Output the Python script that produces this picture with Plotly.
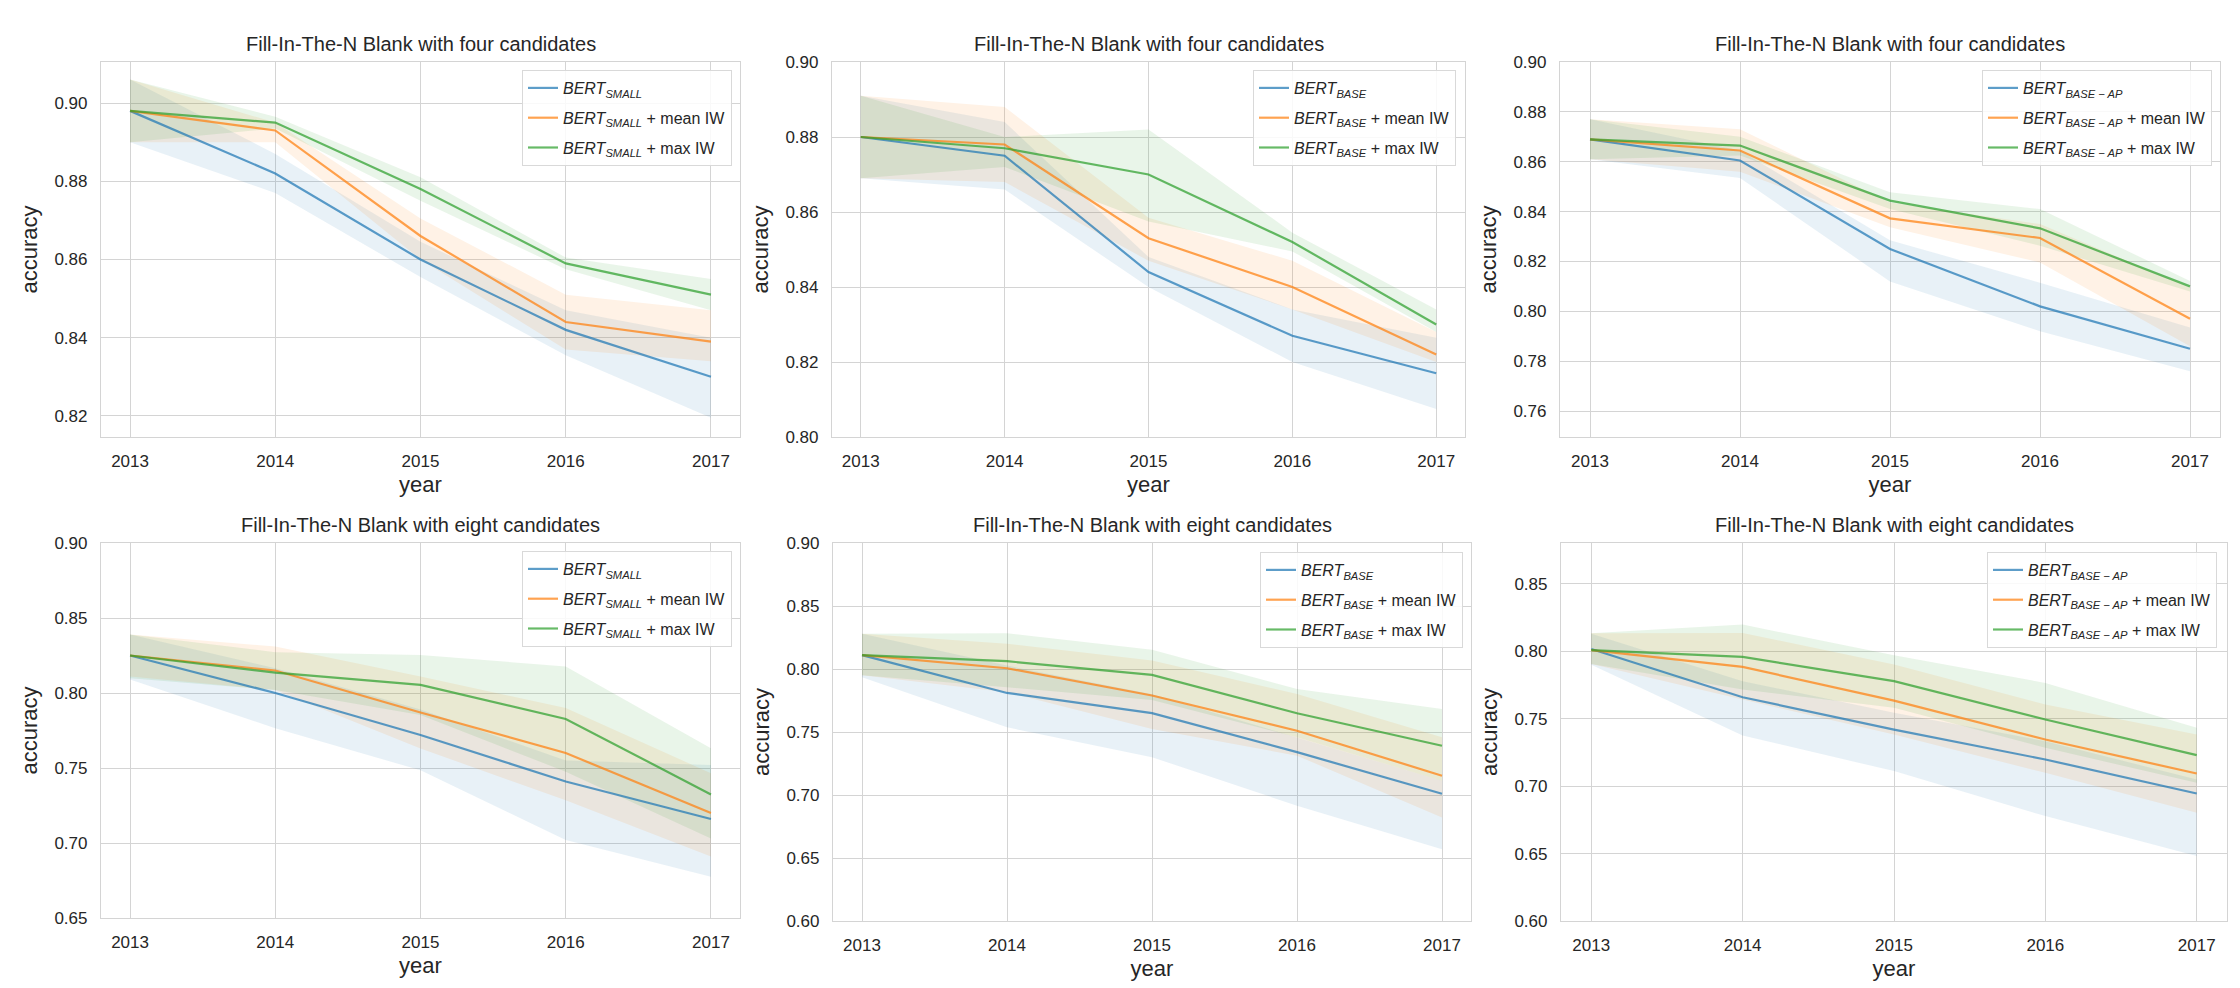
import plotly.graph_objects as go

W, H = 2240, 988

years = [2013, 2014, 2015, 2016, 2017]
year_labels = ["2013", "2014", "2015", "2016", "2017"]

titles = [
    "Fill-In-The-N Blank with four candidates",
    "Fill-In-The-N Blank with four candidates",
    "Fill-In-The-N Blank with four candidates",
    "Fill-In-The-N Blank with eight candidates",
    "Fill-In-The-N Blank with eight candidates",
    "Fill-In-The-N Blank with eight candidates",
]
model_names = ["SMALL", "BASE", "BASE \u2212 AP", "SMALL", "BASE", "BASE \u2212 AP"]
suffixes = ["", " + mean IW", " + max IW"]

# Panel 1: four candidates, BERT_SMALL
four_small_base = [0.898, 0.882, 0.860, 0.842, 0.830]
four_small_base_lo = [0.890, 0.877, 0.8555, 0.8355, 0.8195]
four_small_base_hi = [0.906, 0.887, 0.8645, 0.847, 0.840]
four_small_mean = [0.898, 0.893, 0.866, 0.844, 0.839]
four_small_mean_lo = [0.890, 0.890, 0.860, 0.837, 0.834]
four_small_mean_hi = [0.906, 0.895, 0.8705, 0.851, 0.847]
four_small_max = [0.898, 0.895, 0.878, 0.859, 0.851]
four_small_max_lo = [0.890, 0.8935, 0.875, 0.8575, 0.847]
four_small_max_hi = [0.906, 0.8965, 0.881, 0.8605, 0.855]

# Panel 2: four candidates, BERT_BASE
four_base_base = [0.880, 0.875, 0.844, 0.827, 0.817]
four_base_base_lo = [0.869, 0.866, 0.840, 0.820, 0.8075]
four_base_base_hi = [0.891, 0.884, 0.848, 0.834, 0.8265]
four_base_mean = [0.880, 0.878, 0.853, 0.840, 0.822]
four_base_mean_lo = [0.869, 0.868, 0.847, 0.834, 0.820]
four_base_mean_hi = [0.891, 0.888, 0.8585, 0.847, 0.828]
four_base_max = [0.880, 0.877, 0.870, 0.852, 0.830]
four_base_max_lo = [0.869, 0.872, 0.8575, 0.8495, 0.828]
four_base_max_hi = [0.891, 0.880, 0.882, 0.8545, 0.834]

# Panel 3: four candidates, BERT_BASE-AP
four_ap_base = [0.869, 0.8605, 0.825, 0.802, 0.785]
four_ap_base_lo = [0.861, 0.8535, 0.812, 0.792, 0.776]
four_ap_base_hi = [0.877, 0.8645, 0.8285, 0.8115, 0.7935]
four_ap_mean = [0.869, 0.8645, 0.8373, 0.8294, 0.797]
four_ap_mean_lo = [0.861, 0.856, 0.8337, 0.8196, 0.786]
four_ap_mean_hi = [0.877, 0.873, 0.8437, 0.835, 0.8096]
four_ap_max = [0.869, 0.8665, 0.8444, 0.8333, 0.810]
four_ap_max_lo = [0.861, 0.8625, 0.841, 0.8263, 0.808]
four_ap_max_hi = [0.877, 0.870, 0.8478, 0.841, 0.8122]

# Panel 4: eight candidates, BERT_SMALL
eight_small_base = [0.825, 0.800, 0.772, 0.741, 0.716]
eight_small_base_lo = [0.809, 0.7765, 0.7485, 0.702, 0.6775]
eight_small_base_hi = [0.839, 0.8165, 0.789, 0.755, 0.752]
eight_small_mean = [0.825, 0.815, 0.787, 0.760, 0.720]
eight_small_mean_lo = [0.811, 0.802, 0.763, 0.7285, 0.691]
eight_small_mean_hi = [0.839, 0.831, 0.811, 0.790, 0.7465]
eight_small_max = [0.825, 0.8136, 0.8054, 0.7827, 0.7324]
eight_small_max_lo = [0.8098, 0.802, 0.7854, 0.7475, 0.703]
eight_small_max_hi = [0.839, 0.8272, 0.8254, 0.8176, 0.7631]

# Panel 5: eight candidates, BERT_BASE
eight_base_base = [0.811, 0.781, 0.765, 0.734, 0.701]
eight_base_base_lo = [0.7935, 0.7537, 0.730, 0.6915, 0.657]
eight_base_base_hi = [0.828, 0.8027, 0.780, 0.7458, 0.7113]
eight_base_mean = [0.811, 0.8006, 0.779, 0.751, 0.7153]
eight_base_mean_lo = [0.795, 0.7815, 0.7524, 0.7312, 0.6822]
eight_base_mean_hi = [0.828, 0.820, 0.8067, 0.7802, 0.7458]
eight_base_max = [0.811, 0.8062, 0.7953, 0.7649, 0.7391]
eight_base_max_lo = [0.795, 0.7855, 0.7754, 0.7458, 0.7113]
eight_base_max_hi = [0.828, 0.8284, 0.8152, 0.7842, 0.7683]

# Panel 6: eight candidates, BERT_BASE-AP
eight_ap_base = [0.8018, 0.766, 0.742, 0.7198, 0.6946]
eight_ap_base_lo = [0.790, 0.7376, 0.7112, 0.6778, 0.6482]
eight_ap_base_hi = [0.813, 0.7779, 0.7544, 0.7334, 0.705]
eight_ap_mean = [0.801, 0.7885, 0.7635, 0.7346, 0.7094]
eight_ap_mean_lo = [0.7907, 0.7643, 0.7383, 0.7099, 0.6803]
eight_ap_mean_hi = [0.8134, 0.8137, 0.7902, 0.7606, 0.7383]
eight_ap_max = [0.801, 0.7959, 0.7779, 0.7495, 0.723]
eight_ap_max_lo = [0.7907, 0.7717, 0.7581, 0.7285, 0.7025]
eight_ap_max_hi = [0.8134, 0.8199, 0.7971, 0.7766, 0.7433]

# y-axis ranges and ticks per panel
y_ranges = [[0.8146, 0.9105], [0.80, 0.90], [0.7496, 0.90],
            [0.65, 0.90], [0.60, 0.90], [0.60, 0.8804]]
y_ticks = [
    [0.82, 0.84, 0.86, 0.88, 0.90],
    [0.80, 0.82, 0.84, 0.86, 0.88, 0.90],
    [0.76, 0.78, 0.80, 0.82, 0.84, 0.86, 0.88, 0.90],
    [0.65, 0.70, 0.75, 0.80, 0.85, 0.90],
    [0.60, 0.65, 0.70, 0.75, 0.80, 0.85, 0.90],
    [0.60, 0.65, 0.70, 0.75, 0.80, 0.85],
]

panels = [
    [(four_small_base, four_small_base_lo, four_small_base_hi),
     (four_small_mean, four_small_mean_lo, four_small_mean_hi),
     (four_small_max, four_small_max_lo, four_small_max_hi)],
    [(four_base_base, four_base_base_lo, four_base_base_hi),
     (four_base_mean, four_base_mean_lo, four_base_mean_hi),
     (four_base_max, four_base_max_lo, four_base_max_hi)],
    [(four_ap_base, four_ap_base_lo, four_ap_base_hi),
     (four_ap_mean, four_ap_mean_lo, four_ap_mean_hi),
     (four_ap_max, four_ap_max_lo, four_ap_max_hi)],
    [(eight_small_base, eight_small_base_lo, eight_small_base_hi),
     (eight_small_mean, eight_small_mean_lo, eight_small_mean_hi),
     (eight_small_max, eight_small_max_lo, eight_small_max_hi)],
    [(eight_base_base, eight_base_base_lo, eight_base_base_hi),
     (eight_base_mean, eight_base_mean_lo, eight_base_mean_hi),
     (eight_base_max, eight_base_max_lo, eight_base_max_hi)],
    [(eight_ap_base, eight_ap_base_lo, eight_ap_base_hi),
     (eight_ap_mean, eight_ap_mean_lo, eight_ap_mean_hi),
     (eight_ap_max, eight_ap_max_lo, eight_ap_max_hi)],
]

# ---- styling / layout (pixels) ----
line_colors = ["rgba(31,119,180,0.72)", "rgba(255,127,14,0.72)", "rgba(44,160,44,0.72)"]
band_colors = ["rgba(31,119,180,0.10)", "rgba(255,127,14,0.10)", "rgba(44,160,44,0.10)"]

# axes boxes: (left, right, top, bottom) in px
boxes = [
    (93, 732, 54, 429), (824, 1457, 54, 429), (1552, 2212, 54, 429),
    (93, 732, 535, 910), (825, 1463, 535, 913), (1553, 2219, 535, 913),
]
# legend anchor: (right, top) in px
legend_pos = [
    (724, 62), (1448, 62), (2204, 62),
    (724, 543), (1455, 544), (2209, 544),
]

FONT = "Liberation Sans, Arial, sans-serif"
TXT = "#262626"
GRID = "#d4d4d4"

fig = go.Figure()
layout = dict(
    width=W, height=H,
    margin=dict(l=0, r=0, t=0, b=0),
    paper_bgcolor="white", plot_bgcolor="white",
    font=dict(family=FONT, color=TXT, size=16),
    showlegend=True,
    annotations=[],
)

for i in range(6):
    sfx = "" if i == 0 else str(i + 1)
    xa, ya = "x" + sfx, "y" + sfx
    leg = "legend" + sfx
    for j, (mid, lo, hi) in enumerate(panels[i]):
        fig.add_trace(go.Scatter(
            x=years + years[::-1], y=hi + lo[::-1],
            xaxis=xa, yaxis=ya, fill="toself", fillcolor=band_colors[j],
            line=dict(width=0, color="rgba(0,0,0,0)"), mode="lines",
            showlegend=False, hoverinfo="skip", legend=leg,
        ))
    for j, (mid, lo, hi) in enumerate(panels[i]):
        name = "<i>BERT<sub>" + model_names[i] + "</sub></i>" + suffixes[j]
        fig.add_trace(go.Scatter(
            x=years, y=mid, xaxis=xa, yaxis=ya, mode="lines",
            line=dict(color=line_colors[j], width=2.2),
            name=name, legend=leg, showlegend=True,
            legendgroup="p%d_s%d" % (i, j),
        ))
    l, r, t, b = boxes[i]
    common = dict(
        showgrid=True, gridcolor=GRID, gridwidth=1.2,
        showline=True, linecolor=GRID, linewidth=1.2, mirror=True,
        zeroline=False, ticks="", automargin=False,
        tickfont=dict(size=17, color=TXT, family=FONT),
    )
    layout["xaxis" + sfx] = dict(
        domain=[l / W, r / W], anchor=ya, range=[2012.8, 2017.2],
        tickvals=years, ticktext=year_labels, ticklabelstandoff=8,
        title=dict(text="year", font=dict(size=22, color=TXT, family=FONT), standoff=7),
        **common,
    )
    layout["yaxis" + sfx] = dict(
        domain=[1 - b / H, 1 - t / H], anchor=xa, range=y_ranges[i],
        tickvals=y_ticks[i], tickformat=".2f", ticklabelstandoff=9,
        title=dict(text="accuracy", font=dict(size=22, color=TXT, family=FONT), standoff=10),
        **common,
    )
    lr, lt = legend_pos[i]
    layout[leg] = dict(
        x=lr / W, y=1 - lt / H, xanchor="right", yanchor="top",
        xref="paper", yref="paper",
        bgcolor="rgba(255,255,255,0.85)", bordercolor="#d9d9d9", borderwidth=1,
        font=dict(size=16, color=TXT, family=FONT),
        tracegroupgap=6, itemwidth=30,
    )
    layout["annotations"].append(dict(
        text=titles[i], xref=xa + " domain", yref=ya + " domain",
        x=0.5, y=1, xanchor="center", yanchor="bottom", yshift=5,
        showarrow=False, font=dict(size=20, color=TXT, family=FONT),
    ))

fig.update_layout(**layout)
fig.write_html("out.html")
